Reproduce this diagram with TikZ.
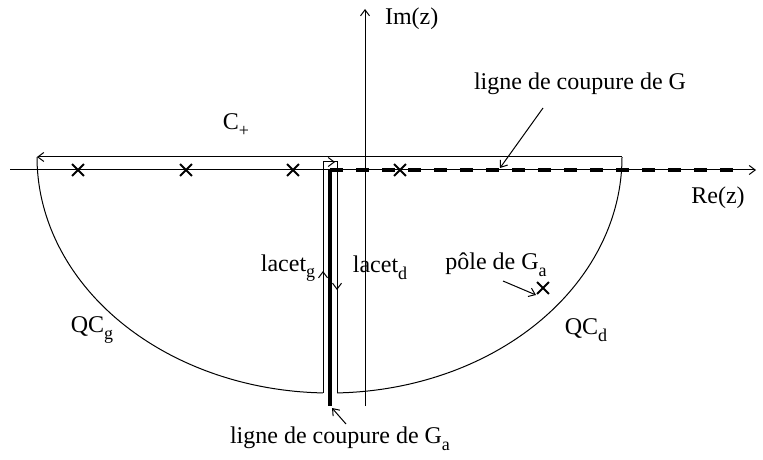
\documentclass[tikz,border=0pt]{standalone}
\usepackage{fontspec}
\setmainfont{Liberation Serif}
\usetikzlibrary{shapes.misc, arrows.meta}
\newcommand{\idx}[1]{\raisebox{-0.6ex}{\fontsize{9}{9}\selectfont #1}}
\begin{document}
\begin{tikzpicture}[
    x=0.5pt, y=-0.5pt,
    >={Straight Barb[length=3pt, width=4.5pt]},
    every node/.style={font=\fontsize{12}{14}\selectfont},
    axis/.style={->, line width=0.5pt},
    contour/.style={line width=0.5pt},
    cut/.style={line width=1.6pt},
    cutdash/.style={line width=1.6pt, dash pattern=on 6.5pt off 6.5pt},
    pole/.style={draw, cross out, line width=0.9pt, minimum size=5pt, inner sep=0pt},
    arrow/.style={->, line width=0.5pt}
]
    \useasboundingbox (0,0) rectangle (763,459);

    % Axes
    \coordinate (xl) at (10,170);
    \coordinate (xr) at (756,170);
    \coordinate (yb) at (365,406);
    \coordinate (yt) at (365,9);
    \draw[axis] (xl) -- (xr);
    \draw[axis] (yb) -- (yt);
    \node[anchor=west] (imz) at (378,19) {Im(z)};
    \node (rez) at (718,198) {Re(z)};

    % Contour
    \draw[contour, ->] (622,157) -- (37,157);
    \draw[contour] plot[domain=180:91.4, samples=80] ({330+293*cos(\x)}, {157+236*sin(\x)});
    \draw[contour, ->] (323,393) -- (323,271);
    \draw[contour] (323,273) -- (323,162);
    \draw[contour, ->] (323,162) -- (335,162);
    \draw[contour] (334,162) -- (337,162) -- (337,170);
    \draw[contour, ->] (337,170) -- (337,290);
    \draw[contour] (337,288) -- (337,393);
    \draw[contour] plot[domain=88.6:0, samples=80] ({330+292*cos(\x)}, {157+236*sin(\x)});

    % Cuts
    \coordinate (bp) at (330,170);
    \coordinate (cutend) at (733,170);
    \coordinate (cutbot) at (330,406);
    \draw[cutdash] (bp) -- (cutend);
    \draw[cut] (bp) -- (cutbot);

    % Poles
    \node[pole] (p1) at (78,170) {};
    \node[pole] (p2) at (186,170) {};
    \node[pole] (p3) at (293,170) {};
    \node[pole] (p4) at (400,170) {};
    \node[pole] (pa) at (543,288) {};

    % Labels
    \node (cplus) at (236,125) {C\idx{+}};
    \node (lacg) at (288,268) {lacet\idx{g}};
    \node (lacd) at (380,268) {lacet\idx{d}};
    \node (qcg) at (92,330) {QC\idx{g}};
    \node (qcd) at (586,330) {QC\idx{d}};
    \node (cutG) at (580,84) {ligne de coupure de G};
    \node (poleGa) at (496,265) {pôle de G\idx{a}};
    \node (cutGa) at (340,439) {ligne de coupure de G\idx{a}};

    % Arrows
    \coordinate (cutGtip) at (500,168);
    \coordinate (cutGatip) at (332,408);
    \coordinate (poletip) at (536,295);
    \draw[arrow] (543,108) -- (cutGtip);
    \draw[arrow] (503,281) -- (poletip);
    \draw[arrow] (346,424) -- (cutGatip);
\end{tikzpicture}
\end{document}
